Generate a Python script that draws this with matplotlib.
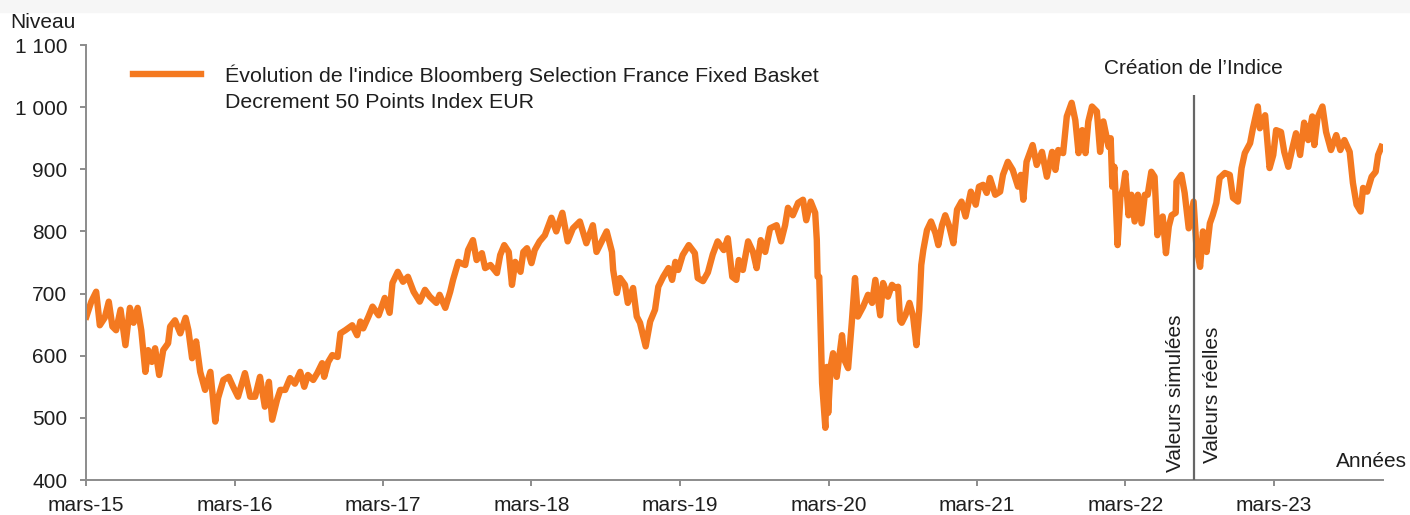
import matplotlib
matplotlib.use('Agg')
import matplotlib.pyplot as plt
import matplotlib.dates as mdates
from matplotlib.patches import Rectangle
from matplotlib.ticker import FuncFormatter, MultipleLocator
import pandas as pd

# index level
dates = [
    '2015-03-02', '2015-03-14', '2015-03-26', '2015-04-04', '2015-04-16', '2015-04-26',
    '2015-05-05', '2015-05-14', '2015-05-25', '2015-06-06', '2015-06-17', '2015-06-26',
    '2015-07-06', '2015-07-15', '2015-07-25', '2015-08-01', '2015-08-10', '2015-08-18',
    '2015-08-28', '2015-09-07', '2015-09-19', '2015-09-24', '2015-10-06', '2015-10-19',
    '2015-11-01', '2015-11-08', '2015-11-17', '2015-11-27', '2015-12-07', '2015-12-19',
    '2016-01-01', '2016-01-13', '2016-01-20', '2016-02-02', '2016-02-15', '2016-02-26',
    '2016-03-09', '2016-03-26', '2016-04-08', '2016-04-20', '2016-05-02', '2016-05-14',
    '2016-05-24', '2016-06-01', '2016-06-13', '2016-06-21', '2016-07-03', '2016-07-15',
    '2016-07-27', '2016-08-09', '2016-08-19', '2016-08-28', '2016-09-10', '2016-09-20',
    '2016-10-02', '2016-10-07', '2016-10-17', '2016-10-27', '2016-11-09', '2016-11-16',
    '2016-11-28', '2016-12-15', '2016-12-27', '2017-01-04', '2017-01-11', '2017-01-24',
    '2017-02-03', '2017-02-18', '2017-03-05', '2017-03-17', '2017-03-24', '2017-04-06',
    '2017-04-19', '2017-05-01', '2017-05-15', '2017-05-30', '2017-06-12', '2017-06-24',
    '2017-07-10', '2017-07-18', '2017-08-01', '2017-08-13', '2017-08-20', '2017-09-02',
    '2017-09-19', '2017-09-26', '2017-10-08', '2017-10-17', '2017-10-30', '2017-11-07',
    '2017-11-20', '2017-12-06', '2017-12-14', '2017-12-24', '2018-01-04', '2018-01-12',
    '2018-01-20', '2018-02-02', '2018-02-09', '2018-02-18', '2018-03-01', '2018-03-09',
    '2018-03-21', '2018-04-03', '2018-04-19', '2018-05-01', '2018-05-16', '2018-05-29',
    '2018-06-11', '2018-06-28', '2018-07-14', '2018-07-30', '2018-08-08', '2018-08-21',
    '2018-09-02', '2018-09-15', '2018-09-18', '2018-09-27', '2018-10-05', '2018-10-17',
    '2018-10-24', '2018-11-06', '2018-11-15', '2018-11-23', '2018-12-01', '2018-12-07',
    '2018-12-18', '2018-12-30', '2019-01-07', '2019-01-19', '2019-02-01', '2019-02-10',
    '2019-02-18', '2019-02-25', '2019-03-08', '2019-03-23', '2019-04-07', '2019-04-14',
    '2019-04-27', '2019-05-09', '2019-05-21', '2019-06-02', '2019-06-17', '2019-06-27',
    '2019-07-08', '2019-07-18', '2019-07-24', '2019-08-03', '2019-08-16', '2019-08-28',
    '2019-09-06', '2019-09-16', '2019-09-27', '2019-10-09', '2019-10-25', '2019-11-05',
    '2019-11-15', '2019-11-22', '2019-12-04', '2019-12-17', '2019-12-29', '2020-01-06',
    '2020-01-17', '2020-01-28', '2020-02-01', '2020-02-03', '2020-02-07', '2020-02-14',
    '2020-02-22', '2020-02-26', '2020-02-29', '2020-03-06', '2020-03-12', '2020-03-21',
    '2020-04-03', '2020-04-09', '2020-04-18', '2020-04-27', '2020-05-05', '2020-05-12',
    '2020-05-25', '2020-06-06', '2020-06-16', '2020-06-24', '2020-07-06', '2020-07-13',
    '2020-07-25', '2020-08-04', '2020-08-12', '2020-08-19', '2020-08-24', '2020-08-28',
    '2020-09-06', '2020-09-16', '2020-09-25', '2020-10-03', '2020-10-10', '2020-10-15',
    '2020-10-20', '2020-10-29', '2020-11-08', '2020-11-19', '2020-11-26', '2020-12-05',
    '2020-12-13', '2020-12-23', '2021-01-02', '2021-01-11', '2021-01-22', '2021-02-01',
    '2021-02-14', '2021-02-26', '2021-03-06', '2021-03-16', '2021-03-25', '2021-04-02',
    '2021-04-15', '2021-04-27', '2021-05-04', '2021-05-16', '2021-05-28', '2021-06-10',
    '2021-06-17', '2021-06-23', '2021-07-01', '2021-07-16', '2021-07-26', '2021-08-08',
    '2021-08-20', '2021-09-02', '2021-09-10', '2021-09-17', '2021-09-29', '2021-10-08',
    '2021-10-20', '2021-10-29', '2021-11-06', '2021-11-15', '2021-11-23', '2021-11-30',
    '2021-12-09', '2021-12-21', '2021-12-29', '2022-01-06', '2022-01-19', '2022-01-24',
    '2022-01-28', '2022-02-02', '2022-02-10', '2022-02-17', '2022-02-24', '2022-03-01',
    '2022-03-09', '2022-03-16', '2022-03-24', '2022-04-01', '2022-04-10', '2022-04-18',
    '2022-04-25', '2022-05-04', '2022-05-12', '2022-05-19', '2022-06-01', '2022-06-09',
    '2022-06-16', '2022-06-23', '2022-07-03', '2022-07-05', '2022-07-17', '2022-07-25',
    '2022-08-04', '2022-08-16', '2022-08-23', '2022-09-01', '2022-09-08', '2022-09-17',
    '2022-09-25', '2022-10-02', '2022-10-11', '2022-10-19', '2022-11-01', '2022-11-13',
    '2022-11-21', '2022-12-03', '2022-12-12', '2022-12-20', '2023-01-02', '2023-01-09',
    '2023-01-21', '2023-01-26', '2023-02-08', '2023-02-19', '2023-02-28', '2023-03-07',
    '2023-03-19', '2023-03-27', '2023-04-06', '2023-04-16', '2023-04-25', '2023-05-05',
    '2023-05-15', '2023-05-25', '2023-06-04', '2023-06-09', '2023-06-17', '2023-06-29',
    '2023-07-08', '2023-07-20', '2023-08-02', '2023-08-12', '2023-08-22', '2023-09-04',
    '2023-09-12', '2023-09-21', '2023-10-01', '2023-10-07', '2023-10-17', '2023-10-28',
    '2023-11-07', '2023-11-13', '2023-11-21',
]
values = [
    663, 687, 703, 649, 661, 687,
    647, 641, 674, 617, 677, 653,
    677, 641, 574, 609, 590, 612,
    569, 609, 620, 647, 657, 636,
    661, 641, 596, 623, 574, 545,
    574, 494, 532, 561, 566, 550,
    534, 572, 534, 534, 566, 518,
    558, 497, 529, 545, 545, 564,
    555, 574, 550, 569, 561, 572,
    588, 566, 590, 601, 598, 636,
    641, 649, 633, 655, 644, 663,
    679, 665, 693, 669, 717, 735,
    719, 727, 703, 687, 706, 695,
    685, 698, 677, 703, 722, 751,
    746, 770, 786, 754, 765, 741,
    746, 733, 762, 778, 767, 714,
    751, 735, 767, 773, 749, 770,
    784, 794, 822, 800, 830, 784,
    805, 816, 781, 810, 767, 784,
    800, 767, 738, 701, 725, 714,
    685, 709, 663, 653, 631, 615,
    655, 674, 711, 727, 741, 722,
    751, 738, 762, 778, 765, 725,
    720, 734, 763, 784, 770, 789,
    727, 722, 754, 738, 784, 767,
    741, 786, 767, 805, 810, 784,
    810, 838, 826, 846, 851, 818,
    848, 830, 786, 727, 727, 556,
    484, 582, 508, 582, 604, 566,
    633, 593, 580, 653, 725, 663,
    679, 698, 685, 722, 665, 717,
    695, 714, 709, 711, 657, 653,
    665, 685, 663, 617, 674, 746,
    770, 802, 816, 797, 778, 810,
    826, 808, 781, 835, 848, 824,
    864, 843, 872, 875, 862, 886,
    859, 864, 891, 912, 899, 872,
    891, 851, 912, 939, 907, 928,
    888, 928, 899, 931, 926, 985,
    1007, 979, 926, 963, 926, 977,
    1001, 993, 928, 977, 936, 950,
    872, 904, 778, 856, 870, 894,
    826, 859, 816, 859, 813, 859,
    859, 896, 888, 794, 824, 765,
    808, 826, 830, 880, 891, 862,
    805, 848, 775, 743, 800, 767,
    813, 826, 846, 886, 894, 891,
    854, 848, 902, 926, 942, 966,
    1001, 966, 987, 902, 923, 963,
    960, 928, 904, 934, 958, 923,
    975, 947, 985, 939, 983, 1001,
    960, 931, 955, 931, 947, 928,
    878, 843, 832, 870, 864, 888,
    896, 923, 936,
]

series_label = "Évolution de l'indice Bloomberg Selection France Fixed Basket"
series_label_2 = "Decrement 50 Points Index EUR"
creation_date = '2022-08-16'
creation_top = 1020
x_start = '2015-03-01'
x_end = '2023-11-25'

plt.rcParams['font.family'] = ['Liberation Sans', 'DejaVu Sans']
plt.rcParams['font.size'] = 15
txt = '#1e1e1e'
grey = '#8c8c8c'

fig = plt.figure(figsize=(14.1, 5.15), dpi=100)
fig.patches.append(Rectangle((0, 1 - 12 / 515), 1, 12 / 515, transform=fig.transFigure,
                             color='#f6f6f6', zorder=0))
ax = fig.add_axes([86 / 1410, 35 / 515, 1297 / 1410, 435 / 515])

x = pd.to_datetime(dates)
ax.plot(x, values, color='#f47920', lw=4.6, solid_joinstyle='round', label=series_label)

cd = pd.Timestamp(creation_date)
ax.vlines(cd, 400, creation_top, color='#666666', lw=1.6, zorder=3)
ax.annotate("Création de l’Indice", xy=(cd, creation_top), xytext=(0, 19),
            textcoords='offset points', ha='center', va='center', color=txt)
ax.annotate("Valeurs simulées", xy=(cd, 400), xytext=(-6, 6), textcoords='offset points',
            rotation=90, ha='right', va='bottom', color=txt)
ax.annotate("Valeurs réelles", xy=(cd, 400), xytext=(7, 12), textcoords='offset points',
            rotation=90, ha='left', va='bottom', color=txt)
ax.annotate("Années", xy=(1, 0), xycoords='axes fraction', xytext=(17, 13),
            textcoords='offset points', ha='right', va='center', color=txt)

ax.set_ylim(400, 1100)
ax.set_xlim(pd.Timestamp(x_start), pd.Timestamp(x_end))
ax.yaxis.set_major_locator(MultipleLocator(100))
ax.yaxis.set_major_formatter(FuncFormatter(lambda v, p: f"{v:,.0f}".replace(',', ' ')))
ax.xaxis.set_major_locator(mdates.YearLocator(base=1, month=3, day=1))
ax.xaxis.set_major_formatter(mdates.DateFormatter('mars-%y'))

for s in ['top', 'right']:
    ax.spines[s].set_visible(False)
for s in ['left', 'bottom']:
    ax.spines[s].set_color(grey)
    ax.spines[s].set_linewidth(1.4)
ax.tick_params(axis='both', colors=grey, labelcolor=txt, length=4.5, width=1.4)
ax.tick_params(axis='y', pad=9)
ax.tick_params(axis='x', pad=7)

fig.text(10 / 1410, 1 - 22 / 515, 'Niveau', va='center', ha='left', color=txt)

leg = ax.legend(loc='upper left', bbox_to_anchor=(133 / 1410, 1 - 64 / 515),
                bbox_transform=fig.transFigure, frameon=False, borderpad=0,
                borderaxespad=0, handlelength=3.2, handletextpad=1.1, fontsize=15.4)
for t in leg.get_texts():
    t.set_color(txt)
fig.text(225 / 1410, 1 - 103 / 515, series_label_2, va='center', ha='left', color=txt,
         fontsize=15.4)

fig.savefig('out.png', dpi=100)
